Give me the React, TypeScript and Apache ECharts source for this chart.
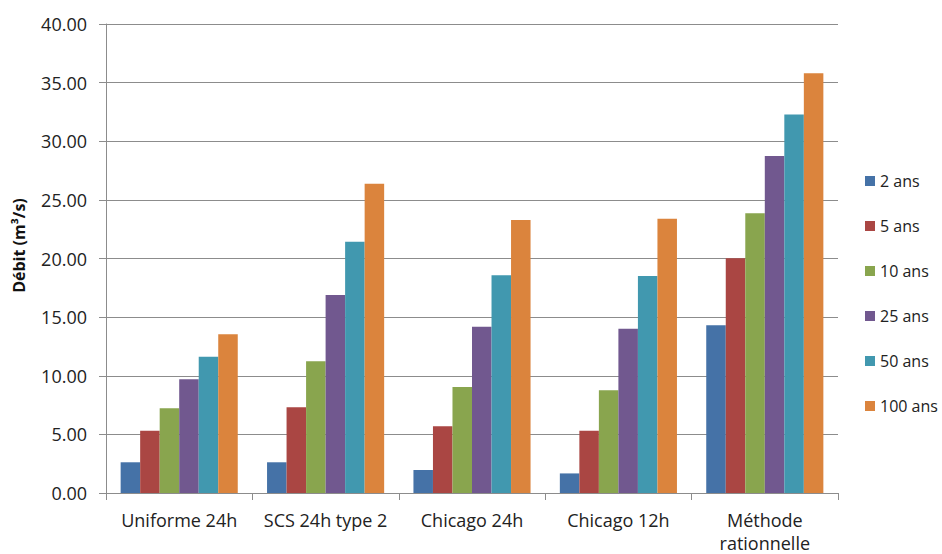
import React, { useEffect, useRef } from "react";
import * as echarts from "echarts";

const categories = ["Uniforme 24h", "SCS 24h type 2", "Chicago 24h", "Chicago 12h", "Méthode\nrationnelle"];
const seriesNames = ["2 ans", "5 ans", "10 ans", "25 ans", "50 ans", "100 ans"];
const ans2 = [2.62, 2.62, 1.96, 1.67, 14.3];
const ans5 = [5.3, 7.32, 5.7, 5.3, 20.03];
const ans10 = [7.23, 11.23, 9.05, 8.77, 23.86];
const ans25 = [9.7, 16.88, 14.18, 14.01, 28.74];
const ans50 = [11.63, 21.42, 18.58, 18.5, 32.28];
const ans100 = [13.55, 26.38, 23.29, 23.38, 35.8];
const colors = ["#4572A7", "#AA4643", "#89A54E", "#71588F", "#4198AF", "#DB843D"];
const yTicks = { min: 0, max: 40, interval: 5 };

export default function App() {
  const ref = useRef<HTMLDivElement>(null);
  useEffect(() => {
    if (!ref.current) return;
    const chart = echarts.init(ref.current, null, { renderer: "svg" });
    const data = [ans2, ans5, ans10, ans25, ans50, ans100];
    const font = "'Open Sans', 'Liberation Sans', sans-serif";
    chart.setOption({
      animation: false,
      textStyle: { fontFamily: font },
      grid: { left: 106, right: 104, top: 24, bottom: 60, containLabel: false },
      legend: {
        orient: "vertical",
        left: 860,
        top: 168,
        itemWidth: 10,
        itemHeight: 10,
        itemGap: 29,
        icon: "rect",
        textStyle: { fontSize: 16, color: "#222", fontFamily: font },
        data: seriesNames,
      },
      xAxis: {
        type: "category",
        data: categories,
        axisLine: { lineStyle: { color: "#8c8c8c", width: 1 } },
        axisTick: { show: true, length: 7, inside: false, lineStyle: { color: "#8c8c8c" } },
        axisLabel: { fontSize: 18, color: "#222", margin: 15, lineHeight: 23, interval: 0 },
      },
      yAxis: {
        type: "value",
        min: yTicks.min,
        max: yTicks.max,
        interval: yTicks.interval,
        name: "Débit (m³/s)",
        nameLocation: "middle",
        nameGap: 79,
        nameTextStyle: { fontSize: 16, fontWeight: "bold", color: "#111", padding: [0, 0, 0, 26] },
        axisLine: { show: true, lineStyle: { color: "#8c8c8c" } },
        axisTick: { show: true, length: 7, lineStyle: { color: "#8c8c8c" } },
        axisLabel: { fontSize: 18, color: "#222", margin: 19, formatter: (v: number) => v.toFixed(2) },
        splitLine: { show: true, lineStyle: { color: "#8c8c8c", width: 1 } },
      },
      series: seriesNames.map((name, i) => ({
        name,
        type: "bar",
        data: data[i],
        barGap: "0%",
        barCategoryGap: "20%",
        itemStyle: { color: colors[i] },
      })),
    });
    return () => chart.dispose();
  }, []);
  return <div ref={ref} style={{ width: 942, height: 554, position: "absolute", left: 0, top: 0, background: "#fff" }} />;
}
